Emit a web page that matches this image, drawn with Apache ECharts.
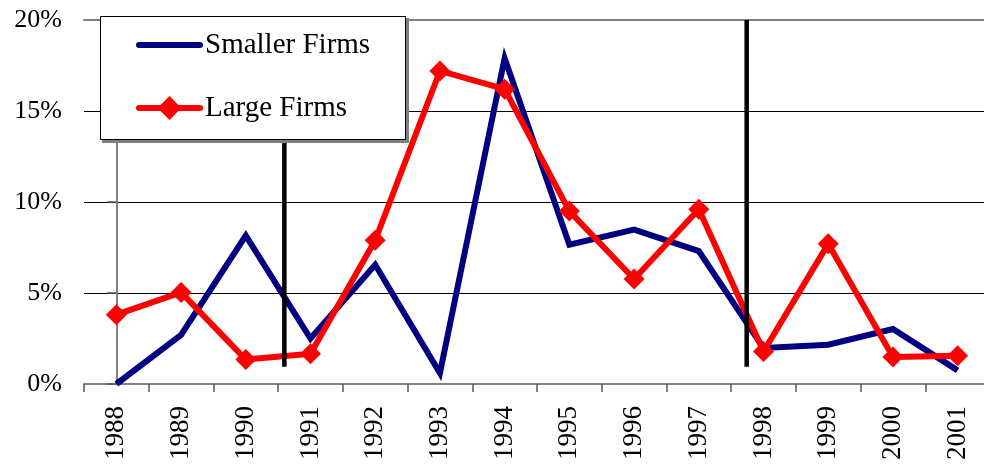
<!DOCTYPE html>
<html>
<head>
<meta charset="utf-8">
<script src="https://cdn.jsdelivr.net/npm/echarts@6/dist/echarts.min.js"></script>
<style>
html,body{margin:0;padding:0;background:#fff;overflow:hidden;width:984px;height:464px;}
#chart{width:990px;height:464px;}
</style>
</head>
<body>
<div id="chart"></div>
<script>
const years = ['1988','1989','1990','1991','1992','1993','1994','1995','1996','1997','1998','1999','2000','2001'];
const smallerFirms = [0, 2.7, 8.15, 2.5, 6.55, 0.6, 17.9, 7.65, 8.48, 7.3, 1.98, 2.16, 3.02, 0.75];
const largeFirms = [3.81, 5.03, 1.34, 1.66, 7.9, 17.2, 16.2, 9.5, 5.77, 9.6, 1.79, 7.7, 1.48, 1.55];
const breakPositions = [2.596, 9.74];
const breakRange = [0.95, 20];
const yTicks = [0, 5, 10, 15, 20];

const FONT = 'Liberation Serif';
const chart = echarts.init(document.getElementById('chart'), null, {renderer: 'canvas'});

const breakSeries = breakPositions.map((p, i) => ({
  name: 'break' + i,
  type: 'line',
  xAxisIndex: 1,
  yAxisIndex: 0,
  data: [[p, breakRange[0]], [p, breakRange[1]]],
  symbol: 'none',
  lineStyle: {color: '#000', width: 4.5, cap: 'butt'},
  z: 4,
  silent: true
}));

chart.setOption({
  animation: false,
  backgroundColor: '#fff',
  grid: {left: 84, top: 20, right: 0, bottom: 80, containLabel: false},
  legend: {
    data: [
      {name: 'Smaller Firms', itemStyle: {opacity: 0}, lineStyle: {width: 6, cap: 'round', color: '#000080'}},
      {name: 'Large Firms', lineStyle: {width: 6, cap: 'round', color: '#ff0000'}}
    ],
    orient: 'vertical',
    left: 136,
    top: 30,
    itemWidth: 61,
    itemHeight: 30,
    itemGap: 33,
    padding: 0,
    z: 60,
    textStyle: {fontFamily: FONT, fontSize: 29, color: '#000', lineHeight: 30}
  },
  graphic: [
    {type: 'rect', z: 50, shape: {x: 102, y: 18, width: 307, height: 125}, style: {fill: '#808080'}},
    {type: 'rect', z: 51, shape: {x: 100.5, y: 16.5, width: 305, height: 123}, style: {fill: '#fff', stroke: '#000', lineWidth: 1}}
  ],
  xAxis: [
    {
      type: 'category',
      data: years,
      boundaryGap: true,
      axisLine: {show: true, lineStyle: {color: '#808080', width: 2}},
      axisTick: {show: true, length: 8, lineStyle: {color: '#555', width: 1.5}},
      axisLabel: {rotate: 90, margin: 22, fontFamily: FONT, fontSize: 27, color: '#000'},
      splitLine: {show: false}
    },
    {
      type: 'value',
      min: -0.5,
      max: 13.5,
      position: 'top',
      show: true,
      axisLine: {show: true, onZero: false, lineStyle: {color: '#808080', width: 2}},
      axisTick: {show: false},
      axisLabel: {show: false},
      splitLine: {show: false}
    }
  ],
  yAxis: {
    type: 'value',
    min: yTicks[0],
    max: yTicks[yTicks.length - 1],
    interval: 5,
    axisLine: {show: true, lineStyle: {color: '#808080', width: 2}},
    axisTick: {show: true, length: 9, lineStyle: {color: '#555', width: 1.5}},
    axisLabel: {formatter: '{value}%', margin: 22, fontFamily: FONT, fontSize: 26, color: '#000'},
    splitLine: {show: true, lineStyle: {color: ['#000', '#000', '#000', '#000', '#808080'], width: 1}}
  },
  series: [
    {
      name: 'Smaller Firms',
      type: 'line',
      data: smallerFirms,
      symbol: 'none',
      color: '#000080',
      lineStyle: {color: '#000080', width: 6, join: 'miter'},
      z: 2
    },
    {
      name: 'Large Firms',
      type: 'line',
      data: largeFirms,
      symbol: 'diamond',
      symbolSize: 21,
      color: '#ff0000',
      itemStyle: {color: '#ff0000'},
      lineStyle: {color: '#ff0000', width: 6},
      z: 3
    }
  ].concat(breakSeries)
});
</script>
</body>
</html>
